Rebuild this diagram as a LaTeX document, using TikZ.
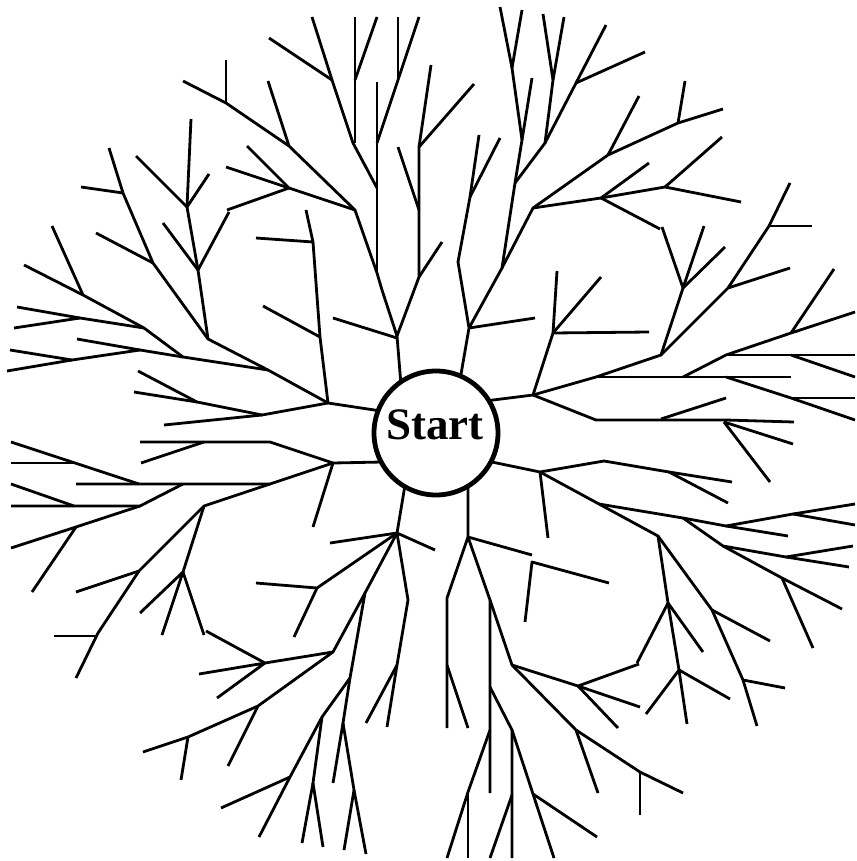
\documentclass[tikz,border=0pt]{standalone}
\usepackage{fontspec}
\setmainfont{Liberation Serif}
\begin{document}
\begin{tikzpicture}[x=1pt,y=-1pt,
  br/.style={line width=2.8pt,line join=round,black},
  startnode/.style={circle,draw=black,fill=white,line width=4.8pt,minimum size=124pt,inner sep=0pt}]
\useasboundingbox (0,0) rectangle (856,861);
% upper-left top group
\draw[br] (183,81)--(226,103)--(289,146)--(355,210)--(377,273)--(382,290)--(397,336)--(401,385);
\draw[br] (226,60)--(226,103);
\draw[br] (268,81)--(289,146);
\draw[br] (269,38)--(332,80)--(353,143)--(377,188);
\draw[br] (312,17)--(332,80);
\draw[br] (355,17)--(355,143);
\draw[br] (377,17)--(355,80);
\draw[br] (377,82)--(377,273);
\draw[br] (398,17)--(398,80);
\draw[br] (419,17)--(398,80)--(377,143);
\draw[br] (247,146)--(289,188)--(355,210);
\draw[br] (226,167)--(289,188);
\draw[br] (227,210)--(289,188);
\draw[br] (398,147)--(419,210);
\draw[br] (431,65)--(419,147)--(419,277)--(397,336);
\draw[br] (474,84)--(419,147);
\draw[br] (442,242)--(419,277);
\draw[br] (333,318)--(397,338);
% upper-middle-right group
\draw[br] (479,135)--(470,197)--(458,262)--(469,328)--(460,380);
\draw[br] (500,138)--(470,197);
\draw[br] (500,7)--(512,68)--(522,140)--(515,183)--(502,268)--(469,328);
\draw[br] (522,10)--(512,68);
\draw[br] (532,78)--(522,140);
\draw[br] (543,14)--(553,80)--(545,143)--(515,183);
\draw[br] (564,17)--(553,80);
\draw[br] (606,25)--(576,83)--(545,143);
\draw[br] (576,83)--(645,52);
\draw[br] (723,109)--(678,123)--(608,155)--(533,208)--(502,268);
\draw[br] (685,81)--(678,123);
\draw[br] (639,96)--(608,155);
\draw[br] (469,328)--(535,318);
\draw[br] (533,208)--(601,198)--(665,187)--(741,202);
\draw[br] (649,163)--(601,198)--(660,229);
\draw[br] (722,137)--(665,187);
% upper-right group
\draw[br] (557,271)--(553,333)--(533,395)--(485,401);
\draw[br] (601,277)--(553,333);
\draw[br] (553,333)--(649,332);
\draw[br] (662,227)--(683,288)--(661,355)--(596,377)--(533,395);
\draw[br] (704,226)--(683,288);
\draw[br] (725,247)--(683,288);
\draw[br] (790,183)--(769,226)--(728,288)--(661,355);
\draw[br] (769,226)--(812,226);
\draw[br] (790,268)--(728,288);
\draw[br] (596,377)--(791,377);
\draw[br] (683,377)--(726,355)--(791,333)--(855,312);
\draw[br] (834,269)--(791,333);
\draw[br] (726,355)--(855,355);
\draw[br] (791,355)--(855,377);
\draw[br] (726,377)--(791,398)--(855,420);
\draw[br] (791,398)--(855,398);
\draw[br] (533,395)--(596,420)--(726,420)--(794,422);
\draw[br] (661,419)--(726,398);
\draw[br] (724,422)--(793,444);
\draw[br] (724,422)--(770,482);
% right-lower group
\draw[br] (487,461)--(540,472)--(604,461)--(669,472)--(732,482);
\draw[br] (669,472)--(728,503);
\draw[br] (540,472)--(548,538);
\draw[br] (540,472)--(599,504)--(658,536)--(668,603)--(679,670)--(687,724);
\draw[br] (599,504)--(683,518)--(726,526)--(793,514)--(855,504);
\draw[br] (726,526)--(788,536);
\draw[br] (793,514)--(855,525);
\draw[br] (683,518)--(723,546)--(786,557)--(853,546);
\draw[br] (786,557)--(849,567);
\draw[br] (723,546)--(782,578)--(842,609);
\draw[br] (782,578)--(813,648);
\draw[br] (658,536)--(712,610)--(743,680)--(757,726);
\draw[br] (712,610)--(770,641);
\draw[br] (743,680)--(785,688);
\draw[br] (668,603)--(637,663);
\draw[br] (668,603)--(703,652);
\draw[br] (679,670)--(646,714);
\draw[br] (679,670)--(730,699);
% bottom-right group
\draw[br] (468,485)--(468,537)--(532,555);
\draw[br] (468,537)--(447,598)--(447,728);
\draw[br] (447,665)--(468,728);
\draw[br] (468,537)--(490,600)--(490,793);
\draw[br] (490,600)--(512,665)--(578,686)--(639,664);
\draw[br] (578,686)--(640,707);
\draw[br] (578,686)--(618,728);
\draw[br] (512,665)--(576,730)--(640,772)--(683,793);
\draw[br] (576,730)--(598,793);
\draw[br] (640,772)--(640,815);
\draw[br] (490,687)--(512,730)--(512,858);
\draw[br] (490,730)--(468,792)--(447,858);
\draw[br] (468,792)--(468,858);
\draw[br] (512,795)--(490,858);
\draw[br] (512,730)--(533,794)--(554,858);
\draw[br] (533,794)--(597,837);
\draw[br] (525,622)--(532,562)--(609,583);
% bottom-left group
\draw[br] (405,485)--(397,533)--(435,550);
\draw[br] (330,543)--(397,533);
\draw[br] (397,533)--(317,588)--(256,583);
\draw[br] (317,588)--(294,637);
\draw[br] (397,533)--(365,593)--(350,678)--(343,723)--(333,783);
\draw[br] (365,593)--(333,652)--(258,706)--(188,737)--(143,752);
\draw[br] (333,652)--(265,663)--(206,631);
\draw[br] (199,674)--(265,663)--(217,698);
\draw[br] (258,706)--(228,766);
\draw[br] (188,737)--(181,780);
\draw[br] (350,678)--(322,717)--(290,777)--(221,808);
\draw[br] (290,777)--(259,837);
\draw[br] (322,717)--(313,783)--(302,843);
\draw[br] (313,783)--(323,847);
\draw[br] (343,723)--(354,790)--(344,850);
\draw[br] (354,790)--(366,854);
\draw[br] (397,533)--(408,600)--(397,665)--(387,727);
\draw[br] (397,665)--(366,723);
% left group
\draw[br] (382,462)--(333,463)--(313,527);
\draw[br] (333,463)--(270,442)--(140,442);
\draw[br] (141,463)--(204,442);
\draw[br] (333,463)--(270,484)--(76,484);
\draw[br] (11,442)--(75,463)--(139,484);
\draw[br] (11,463)--(75,463);
\draw[br] (11,484)--(74,506);
\draw[br] (11,506)--(140,506)--(183,484);
\draw[br] (11,548)--(76,527)--(140,506);
\draw[br] (76,527)--(32,592);
\draw[br] (270,484)--(204,506)--(139,571)--(98,633)--(76,678);
\draw[br] (76,592)--(139,571);
\draw[br] (54,636)--(98,636);
\draw[br] (204,506)--(183,572);
\draw[br] (140,613)--(183,572)--(162,635);
\draw[br] (183,572)--(204,635);
% upper-left group
\draw[br] (381,411)--(328,403)--(268,370)--(208,339)--(153,263)--(123,193)--(109,148);
\draw[br] (81,187)--(123,193);
\draw[br] (96,233)--(153,263);
\draw[br] (208,339)--(198,270)--(187,207)--(191,119);
\draw[br] (136,156)--(187,207)--(209,174);
\draw[br] (163,223)--(198,270)--(229,212);
\draw[br] (328,403)--(320,337)--(313,242)--(306,210);
\draw[br] (256,238)--(313,242);
\draw[br] (263,306)--(320,337);
\draw[br] (268,370)--(183,357)--(144,328)--(83,295)--(24,265);
\draw[br] (52,226)--(83,295);
\draw[br] (17,307)--(80,318)--(144,328);
\draw[br] (14,328)--(80,318);
\draw[br] (183,357)--(140,350)--(72,360)--(10,350);
\draw[br] (77,339)--(140,350);
\draw[br] (7,371)--(72,360);
\draw[br] (328,403)--(262,415)--(197,402)--(138,371);
\draw[br] (134,392)--(197,402);
\draw[br] (164,425)--(262,415);
% start
\node[startnode] (S) at (436,433) {};
\node (T) at (435,425) {\fontsize{45}{50}\selectfont\bfseries Start};
\end{tikzpicture}
\end{document}
